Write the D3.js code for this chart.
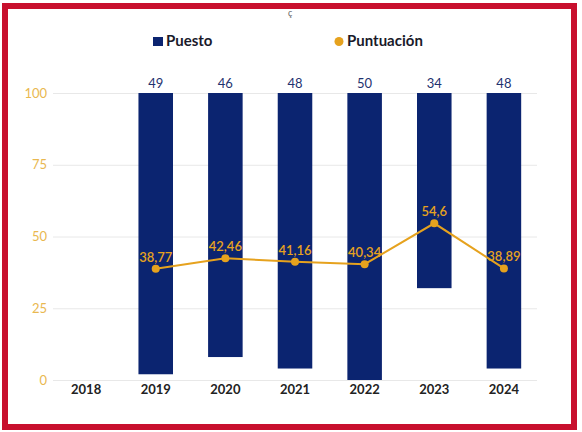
<!DOCTYPE html>
<html><head><meta charset="utf-8">
<script src="https://cdn.jsdelivr.net/npm/d3@7"></script>
<style>body{margin:0;background:#fff}svg{display:block;font-family:Lato, "Open Sans", sans-serif}</style>
</head><body>
<svg id="c" width="582" height="432"></svg>
<script>
const years = ["2018","2019","2020","2021","2022","2023","2024"];
const puesto = [null,49,46,48,50,34,48];
const puntuacion = [null,38.77,42.46,41.16,40.34,54.6,38.89];
const yTicks = [0,25,50,75,100];

const svg = d3.select("#c");
const navy = "#0b2470", gold = "#e6a21e", tickCol = "#e9b850";
const yTop = 93, yBot = 380;
const x = d3.scaleBand().domain(years).range([34,556]).paddingInner(0.504).paddingOuter(0.5);
const y = d3.scaleLinear().domain([0,100]).range([yBot, yTop]);
const yP = d3.scaleLinear().domain([0,50]).range([yTop, yBot]);

// border
svg.append("rect").attr("x",5).attr("y",6).attr("width",569).attr("height",421)
  .attr("fill","none").attr("stroke","#c8102e").attr("stroke-width",6);
svg.append("text").attr("x",288).attr("y",16).attr("font-size",9).attr("fill","#666").text("ç");

// grid
const yAxis = d3.axisLeft(y).tickValues(yTicks).tickSize(-(537-53)).tickPadding(6);
const ga = svg.append("g").attr("transform","translate(53,0)").call(yAxis);
ga.select(".domain").remove();
ga.selectAll(".tick line").attr("stroke","#e8e8e8");
ga.selectAll(".tick text").attr("fill",tickCol).attr("font-size",13).attr("font-family","Lato");

// x axis
const xa = svg.append("g").attr("transform",`translate(0,${yBot})`).call(d3.axisBottom(x).tickSize(0).tickPadding(5));
xa.select(".domain").remove();
xa.selectAll("text").attr("fill","#222").attr("font-size",13).attr("font-weight","bold").attr("font-family","Lato");

const data = years.map((yr,i)=>({yr, p:puesto[i], s:puntuacion[i]}));
const bd = data.filter(d=>d.p!=null);
svg.append("g").selectAll("rect").data(bd).join("rect")
  .attr("x",d=>x(d.yr)).attr("width",x.bandwidth())
  .attr("y",yP(0)).attr("height",d=>yP(d.p)-yP(0)).attr("fill",navy);
svg.append("g").selectAll("text").data(bd).join("text")
  .attr("x",d=>x(d.yr)+x.bandwidth()/2).attr("y",yP(0)-5).attr("text-anchor","middle")
  .attr("fill","#1f3370").attr("font-size",13).attr("font-family","Lato").text(d=>d.p);

const line = d3.line().x(d=>x(d.yr)+x.bandwidth()/2).y(d=>y(d.s));
svg.append("path").datum(bd).attr("d",line).attr("fill","none").attr("stroke",gold).attr("stroke-width",2);
svg.append("g").selectAll("circle").data(bd).join("circle")
  .attr("cx",d=>x(d.yr)+x.bandwidth()/2).attr("cy",d=>y(d.s)).attr("r",4).attr("fill",gold);
svg.append("g").selectAll("text").data(bd).join("text")
  .attr("x",d=>x(d.yr)+x.bandwidth()/2).attr("y",d=>y(d.s)-7).attr("text-anchor","middle")
  .attr("fill",gold).attr("font-size",13).attr("font-weight","600").attr("font-family","Lato")
  .text(d=>String(d.s).replace(".",","));

// legend
const lg = svg.append("g");
lg.append("rect").attr("x",153).attr("y",37).attr("width",10).attr("height",9).attr("fill",navy);
lg.append("text").attr("x",166).attr("y",46).attr("font-size",15).attr("font-weight","bold").attr("fill","#1a1a2a").text("Puesto");
lg.append("circle").attr("cx",339).attr("cy",41.5).attr("r",4.5).attr("fill",gold);
lg.append("text").attr("x",347).attr("y",46).attr("font-size",15).attr("font-weight","bold").attr("fill","#1a1a2a").text("Puntuación");
</script>
</body></html>
